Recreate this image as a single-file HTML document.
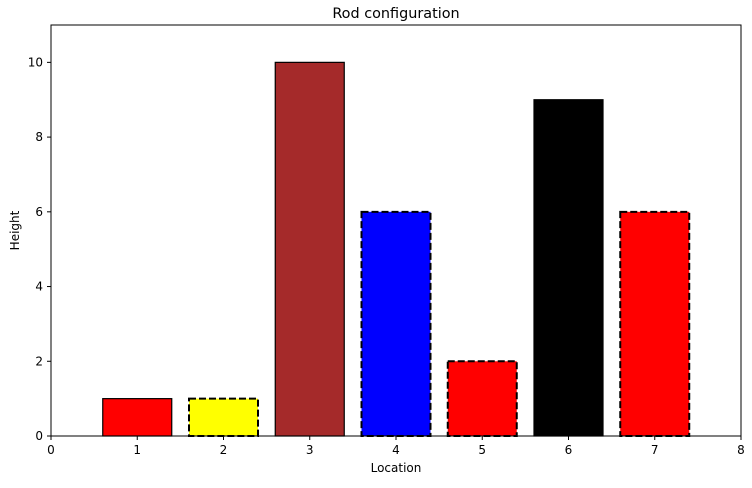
<!DOCTYPE html>
<html><head><meta charset="utf-8"><style>body{margin:0;background:#fff}svg{font-family:"DejaVu Sans","Liberation Sans",sans-serif}</style></head>
<body>
<svg id="chart" width="752" height="483"></svg>
<script>
const categories=[1,2,3,4,5,6,7];
const heights=[1,1,10,6,2,9,6];
const colors=["#ff0000","#ffff00","#a52a2a","#0000ff","#ff0000","#000000","#ff0000"];
const dashed=[false,true,false,true,true,false,true];
const xTicks=[0,1,2,3,4,5,6,7,8];
const yTicks=[0,2,4,6,8,10];
const L=51,R=741,T=25,B=436,xMax=8,yMax=11;
const sx=v=>L+(R-L)*v/xMax, sy=v=>B-(B-T)*v/yMax;
const svg=document.getElementById('chart');const NS="http://www.w3.org/2000/svg";
function mk(t,a,txt){const e=document.createElementNS(NS,t);for(const k in a)e.setAttribute(k,a[k]);if(txt!==undefined)e.textContent=txt;svg.appendChild(e);return e;}
categories.forEach((c,i)=>{const x0=sx(c-0.4),x1=sx(c+0.4);
const r=mk('rect',{x:x0,y:sy(heights[i]),width:x1-x0,height:sy(0)-sy(heights[i]),fill:colors[i],stroke:'#000','stroke-width':dashed[i]?2:1.2,'stroke-dasharray':dashed[i]?'7,3':'none'});

});
const f=mk('rect',{x:L,y:T,width:R-L,height:B-T,fill:'none',stroke:'#000','stroke-width':1});


xTicks.forEach(v=>{mk('line',{x1:sx(v),x2:sx(v),y1:B,y2:B+4,stroke:'#000'});
const t=mk('text',{x:sx(v),y:B+18,'text-anchor':'middle','font-size':12},v);

});
yTicks.forEach(v=>{mk('line',{x1:L-4,x2:L,y1:sy(v),y2:sy(v),stroke:'#000'});
const t=mk('text',{x:L-8,y:sy(v)+4,'text-anchor':'end','font-size':12},v);

});
const tt=mk('text',{x:(L+R)/2,y:18,'text-anchor':'middle','font-size':14.4},'Rod configuration');


const xl=mk('text',{x:(L+R)/2,y:472,'text-anchor':'middle','font-size':12},'Location');


const yl=mk('text',{x:19,y:(T+B)/2,'text-anchor':'middle','font-size':12,transform:'rotate(-90 19 '+(T+B)/2+')'},'Height');


</script>
</body></html>
